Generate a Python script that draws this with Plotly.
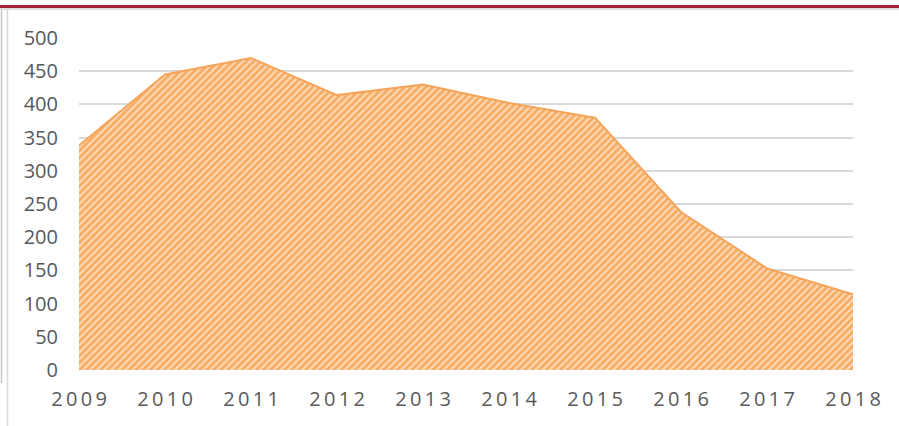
import plotly.graph_objects as go

# Yearly values plotted as a hatched area
years = ["2009", "2010", "2011", "2012", "2013", "2014", "2015", "2016", "2017", "2018"]
values = [338, 445, 470, 414, 430, 402, 380, 238, 153, 114]
y_ticks = [0, 50, 100, 150, 200, 250, 300, 350, 400, 450, 500]

W, H = 899, 426
L, R, T, B = 79, 46, 37.5, 56
PW, PH = W - L - R, H - T - B


def px_x(px):
    return (px - L) / PW


def px_y(py):
    return (H - B - py) / PH


THIN = "\u2009"
x_labels = [THIN.join(y) for y in years]

fig = go.Figure()
fig.add_trace(go.Scatter(
    x=years,
    y=values,
    mode="lines",
    fill="tozeroy",
    line=dict(color="#F5A45A", width=2),
    fillcolor="#FCD8B4",
    fillpattern=dict(shape="/", size=5, solidity=0.55,
                     fgcolor="#EE7F12", bgcolor="#FCD8B4"),
    hoverinfo="x+y",
    showlegend=False,
))

font_family = "Open Sans, Lato, sans-serif"
fig.update_layout(
    width=W, height=H,
    margin=dict(l=L, r=R, t=T, b=B, pad=0),
    paper_bgcolor="white",
    plot_bgcolor="white",
    xaxis=dict(
        type="category",
        range=[0, len(years) - 1],
        tickvals=years,
        ticktext=x_labels,
        showgrid=False,
        zeroline=False,
        showline=False,
        ticks="",
        ticklabelstandoff=15,
        tickfont=dict(family=font_family, size=20, color="#595959"),
    ),
    yaxis=dict(
        range=[0, 500],
        tickvals=y_ticks,
        showgrid=True,
        gridcolor="#D9D9D9",
        gridwidth=1.5,
        zeroline=False,
        showline=False,
        ticks="",
        ticklabelstandoff=20,
        tickfont=dict(family=font_family, size=20, color="#595959"),
    ),
    shapes=[
        # header rule across the top
        dict(type="line", xref="paper", yref="paper",
             x0=px_x(0), x1=px_x(W), y0=px_y(6), y1=px_y(6),
             line=dict(color="#A3243A", width=3)),
        dict(type="line", xref="paper", yref="paper",
             x0=px_x(0), x1=px_x(W), y0=px_y(8.5), y1=px_y(8.5),
             line=dict(color="#E0E0E0", width=2)),
        # left frame edges
        dict(type="line", xref="paper", yref="paper",
             x0=px_x(1.5), x1=px_x(1.5), y0=px_y(9), y1=px_y(383),
             line=dict(color="#C6C6C6", width=1.5)),
        dict(type="line", xref="paper", yref="paper",
             x0=px_x(7.5), x1=px_x(7.5), y0=px_y(9), y1=px_y(H),
             line=dict(color="#D9D9D9", width=1.5)),
    ],
)

fig.write_html("out.html")
